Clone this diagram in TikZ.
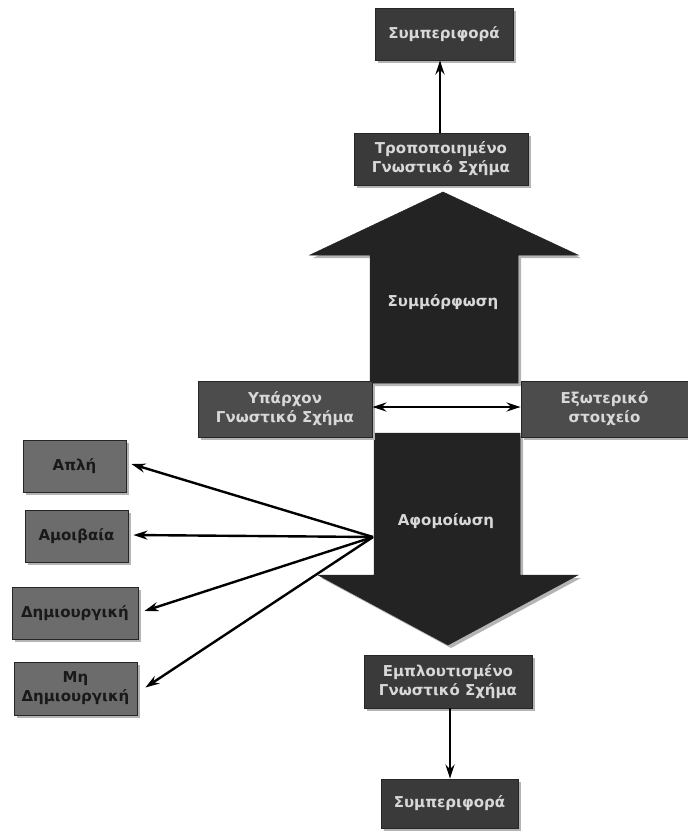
\documentclass[tikz,border=0pt]{standalone}
\usepackage{fontspec}
\setmainfont{DejaVu Sans}
\usetikzlibrary{arrows.meta,shadows}
\definecolor{boxdark}{HTML}{3A3A3A}
\definecolor{boxmid}{HTML}{4C4C4C}
\definecolor{boxlight}{HTML}{6C6C6C}
\definecolor{txtlight}{HTML}{D8D8D8}
\definecolor{arrowfill}{HTML}{232323}
\definecolor{shadowgray}{HTML}{B4B4B4}
\tikzset{
  shd/.style={drop shadow={shadow xshift=3pt,shadow yshift=-3pt,fill=shadowgray,opacity=1}},
  basebox/.style={draw=black!85,line width=0.8pt,align=center,inner sep=0pt,shd,
    font=\fontsize{15}{19}\selectfont\bfseries},
  darkbox/.style={basebox,fill=boxdark,text=txtlight},
  midbox/.style={basebox,fill=boxmid,text=txtlight},
  lightbox/.style={basebox,fill=boxlight,text=black!90},
  bigarrow/.style={fill=arrowfill,draw=arrowfill,line width=0.5pt,shd},
  arrowlabel/.style={text=txtlight,font=\fontsize{15}{19}\selectfont\bfseries},
  conn/.style={draw=black,line width=2.4pt,-{Stealth[length=14pt,width=9pt]}},
  dconn/.style={draw=black,line width=2.4pt,{Stealth[length=14pt,width=9pt]}-{Stealth[length=14pt,width=9pt]}}
}
\begin{document}
\begin{tikzpicture}[x=1pt,y=-1pt]
\useasboundingbox (0,0) rectangle (688,831);
% big arrows
\path[bigarrow] (443,192) -- (578,255) -- (518,255) -- (518,383) -- (370,383) -- (370,255) -- (310,255) -- cycle;
\path[bigarrow] (374,433) -- (520,433) -- (520,575) -- (578,575) -- (448,645) -- (318,575) -- (374,575) -- cycle;
\node[arrowlabel] (symm) at (443,302) {Συμμόρφωση};
\node[arrowlabel] (afom) at (446,521) {Αφομοίωση};
% boxes
\node[darkbox,minimum width=138pt,minimum height=52pt] (beh1) at (444,34) {Συμπεριφορά};
\node[darkbox,minimum width=174pt,minimum height=52pt] (trop) at (441,159) {Τροποποιημένο\\Γνωστικό Σχήμα};
\node[midbox,minimum width=174pt,minimum height=56pt] (ypar) at (285,409) {Υπάρχον\\Γνωστικό Σχήμα};
\node[midbox,minimum width=167pt,minimum height=56pt] (exot) at (604.5,409) {Εξωτερικό\\στοιχείο};
\node[darkbox,minimum width=168pt,minimum height=53pt] (empl) at (448,681.5) {Εμπλουτισμένο\\Γνωστικό Σχήμα};
\node[darkbox,minimum width=137pt,minimum height=49pt] (beh2) at (449.5,803.5) {Συμπεριφορά};
\node[lightbox,minimum width=103pt,minimum height=52pt] (apli) at (74.5,466) {Απλή};
\node[lightbox,minimum width=103pt,minimum height=52pt] (amoib) at (76.5,536) {Αμοιβαία};
\node[lightbox,minimum width=126pt,minimum height=52pt] (dimio) at (75,613) {Δημιουργική};
\node[lightbox,minimum width=123pt,minimum height=53pt] (midim) at (75.5,688.5) {Μη\\Δημιουργική};
% connectors
\coordinate (src) at (373,537);
\draw[conn] (trop.north -| 440,0) -- (beh1.south -| 440,0);
\draw[dconn] ([yshift=2pt]ypar.east) -- ([yshift=2pt]exot.west);
\draw[conn] (empl.south -| 450,0) -- (beh2.north -| 450,0);
\draw[conn] (src) -- ([xshift=5pt,yshift=2pt]apli.east);
\draw[conn] (src) -- ([xshift=5pt,yshift=1pt]amoib.east);
\draw[conn] (src) -- ([xshift=6pt,yshift=2pt]dimio.east);
\draw[conn] (src) -- ([xshift=8pt,yshift=1pt]midim.east);
\end{tikzpicture}
\end{document}
